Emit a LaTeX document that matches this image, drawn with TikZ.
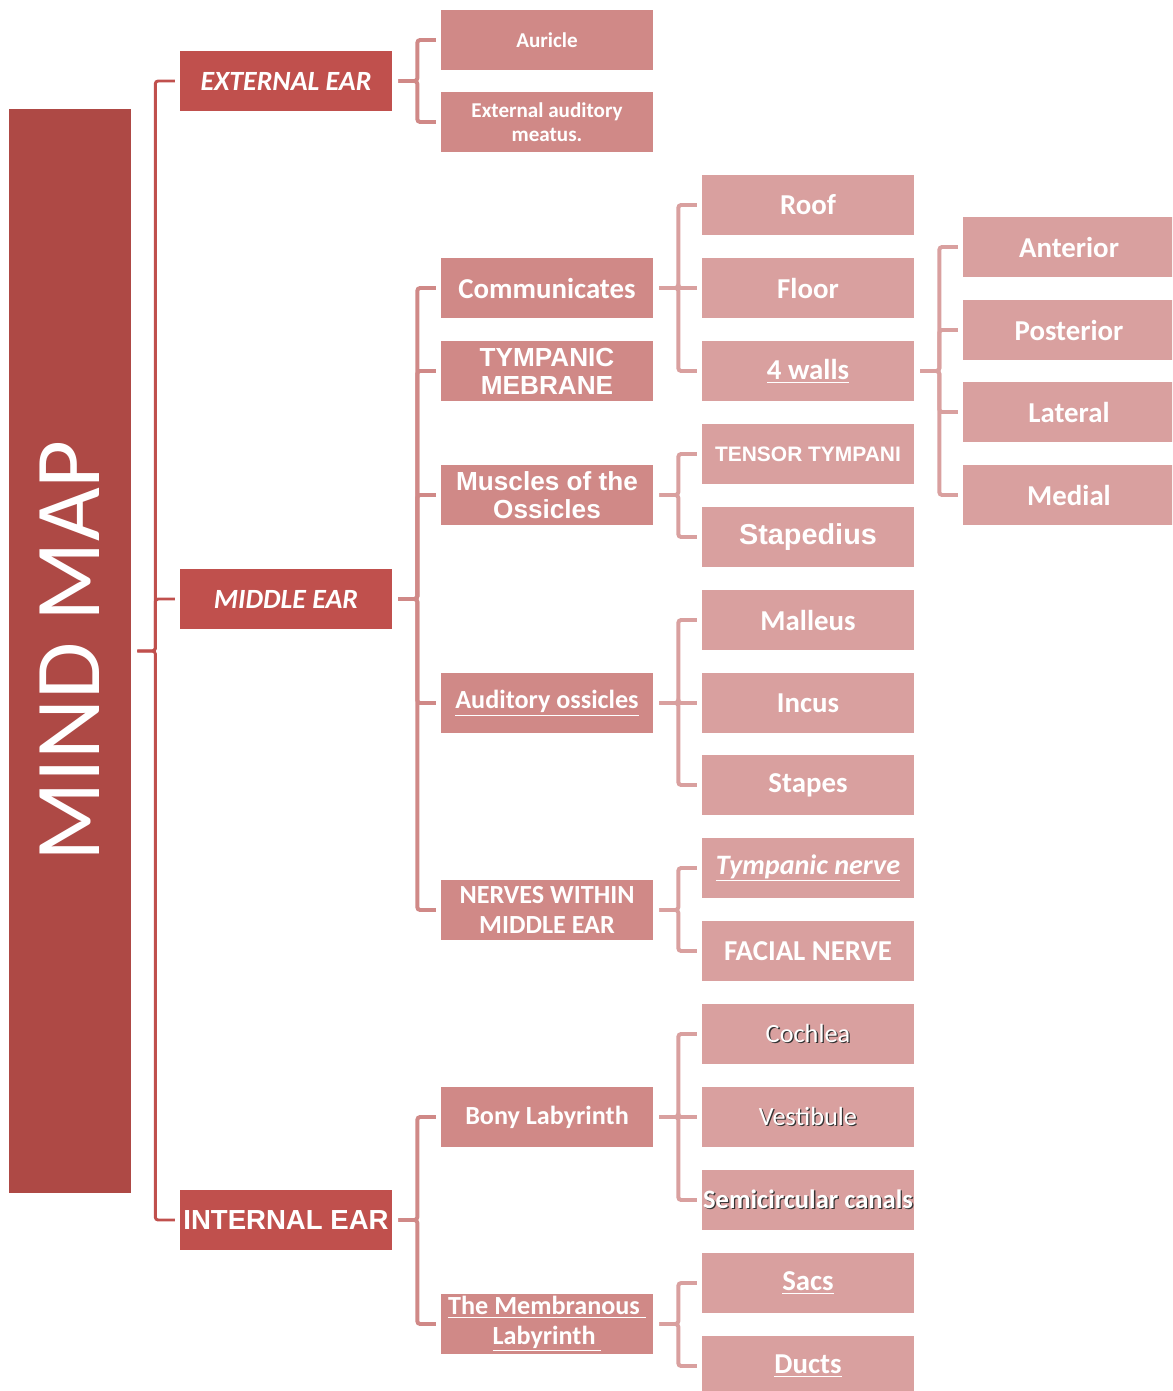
\documentclass[tikz,border=0pt]{standalone}
\usepackage{fontspec}
\setmainfont{Carlito}
\newfontfamily\arialfont{Liberation Sans}

\definecolor{mindred}{RGB}{174,73,69}
\definecolor{topicred}{RGB}{192,80,77}
\definecolor{subpink}{RGB}{208,137,135}
\definecolor{leafpink}{RGB}{217,160,159}

\newcommand{\shadowtext}[1]{\makebox[0pt][l]{\hspace{0.9pt}\raisebox{-0.9pt}{\color{black!80}#1}}#1}

\begin{document}
\begin{tikzpicture}[x=0.025cm,y=-0.025cm,
    box/.style ={rectangle, text=white, inner sep=0pt, align=center,
                 minimum width=5.3cm, minimum height=1.5cm},
    mindbox/.style ={rectangle, fill=mindred, text=white, inner sep=0pt,
                 minimum width=3.05cm, minimum height=27.1cm},
    topic/.style ={box, fill=topicred},
    sub/.style ={box, fill=subpink},
    leaf/.style ={box, fill=leafpink},
    big/.style ={font=\bfseries\fontsize{20.5}{22}\selectfont},
    mediumtxt/.style ={font=\bfseries\fontsize{18.6}{21}\selectfont},
    ariatxt/.style ={font=\arialfont\bfseries\fontsize{18.6}{20}\selectfont},
    link/.style ={line width=2.8pt, rounded corners=2pt,
                  shorten <=4.25pt, shorten >=3.5pt}]
   \clip (0,0) rectangle (1172,1391);

   \node[mindbox] (mind) at (70,651) {\rotatebox{90}{\fontsize{66}{66}\selectfont MIND MAP}};

   \node[topic,font=\bfseries\itshape\fontsize{19.8}{22}\selectfont] (ext) at (286,81) {EXTERNAL EAR};
   \node[topic,font=\bfseries\itshape\fontsize{19.8}{22}\selectfont] (mid) at (286,599) {MIDDLE EAR};
   \node[topic,font=\arialfont\bfseries\fontsize{19.6}{22}\selectfont] (int) at (286,1220) {INTERNAL EAR};

   \node[sub,font=\bfseries\fontsize{15}{17}\selectfont] (auricle) at (547,40) {Auricle};
   \node[sub,font=\bfseries\fontsize{15}{17}\selectfont] (meatus) at (547,122) {External auditory\\meatus.};
   \node[sub,big] (comm) at (547,288) {Communicates};
   \node[sub,ariatxt] (tymp) at (547,371) {TYMPANIC\\MEBRANE};
   \node[sub,ariatxt] (musc) at (547,495) {Muscles of the\\Ossicles};
   \node[sub,mediumtxt] (ossic) at (547,703) {\underline{Auditory ossicles}};
   \node[sub,mediumtxt] (nerves) at (547,910) {NERVES WITHIN\\MIDDLE EAR};
   \node[sub,mediumtxt] (bony) at (547,1117) {Bony Labyrinth};
   \node[sub,mediumtxt] (memb) at (547,1324) {\underline{The Membranous\ }\\\underline{Labyrinth\ }};

   \node[leaf,big] (roof) at (808,205) {Roof};
   \node[leaf,big] (floor) at (808,288) {Floor};
   \node[leaf,big] (walls) at (808,371) {\underline{4 walls}};
   \node[leaf,font=\arialfont\bfseries\fontsize{14.9}{17}\selectfont] (tensor) at (808,454) {TENSOR TYMPANI};
   \node[leaf,font=\arialfont\bfseries\fontsize{20.5}{22}\selectfont] (staped) at (808,537) {Stapedius};
   \node[leaf,big] (malleus) at (808,620) {Malleus};
   \node[leaf,big] (incus) at (808,703) {Incus};
   \node[leaf,big] (stapes) at (808,785) {Stapes};
   \node[leaf,font=\bfseries\itshape\fontsize{20}{22}\selectfont] (tymnerve) at (808,868) {\underline{Tympanic nerve}};
   \node[leaf,big] (facial) at (808,951) {FACIAL NERVE};
   \node[leaf,font=\fontsize{18.7}{21}\selectfont] (cochlea) at (808,1034) {\shadowtext{Cochlea}};
   \node[leaf,font=\fontsize{18.7}{21}\selectfont] (vestib) at (808,1117) {\shadowtext{Vestibule}};
   \node[leaf,font=\bfseries\fontsize{18.9}{21}\selectfont] (semicirc) at (808,1200) {\shadowtext{Semicircular canals}};
   \node[leaf,big] (sacs) at (808,1283) {\underline{Sacs}};
   \node[leaf,big] (ducts) at (808,1366) {\underline{Ducts}};

   \node[leaf,big] (ant) at (1069,247) {Anterior};
   \node[leaf,big] (post) at (1069,330) {Posterior};
   \node[leaf,big] (lat) at (1069,412) {Lateral};
   \node[leaf,big] (med) at (1069,495) {Medial};

   % main branch
   \draw[link,topicred,line width=2.1pt] (mind.east) -- ++(24,0) |- (ext.west);
   \draw[link,topicred,line width=2.1pt] (mind.east) -- ++(24,0) |- (mid.west);
   \draw[link,topicred,line width=2.1pt] (mind.east) -- ++(24,0) |- (int.west);

   % external ear
   \draw[link,subpink] (ext.east) -- ++(25,0) |- (auricle.west);
   \draw[link,subpink] (ext.east) -- ++(25,0) |- (meatus.west);

   % middle ear
   \draw[link,subpink] (mid.east) -- ++(25,0) |- (comm.west);
   \draw[link,subpink] (mid.east) -- ++(25,0) |- (tymp.west);
   \draw[link,subpink] (mid.east) -- ++(25,0) |- (musc.west);
   \draw[link,subpink] (mid.east) -- ++(25,0) |- (ossic.west);
   \draw[link,subpink] (mid.east) -- ++(25,0) |- (nerves.west);

   \draw[link,leafpink] (comm.east) -- ++(25,0) |- (roof.west);
   \draw[link,leafpink] (comm.east) -- ++(25,0) |- (floor.west);
   \draw[link,leafpink] (comm.east) -- ++(25,0) |- (walls.west);

   \draw[link,leafpink] (walls.east) -- ++(25,0) |- (ant.west);
   \draw[link,leafpink] (walls.east) -- ++(25,0) |- (post.west);
   \draw[link,leafpink] (walls.east) -- ++(25,0) |- (lat.west);
   \draw[link,leafpink] (walls.east) -- ++(25,0) |- (med.west);

   \draw[link,leafpink] (musc.east) -- ++(25,0) |- (tensor.west);
   \draw[link,leafpink] (musc.east) -- ++(25,0) |- (staped.west);

   \draw[link,leafpink] (ossic.east) -- ++(25,0) |- (malleus.west);
   \draw[link,leafpink] (ossic.east) -- ++(25,0) |- (incus.west);
   \draw[link,leafpink] (ossic.east) -- ++(25,0) |- (stapes.west);

   \draw[link,leafpink] (nerves.east) -- ++(25,0) |- (tymnerve.west);
   \draw[link,leafpink] (nerves.east) -- ++(25,0) |- (facial.west);

   % internal ear
   \draw[link,subpink] (int.east) -- ++(25,0) |- (bony.west);
   \draw[link,subpink] (int.east) -- ++(25,0) |- (memb.west);

   \draw[link,leafpink] (bony.east) -- ++(25,0) |- (cochlea.west);
   \draw[link,leafpink] (bony.east) -- ++(25,0) |- (vestib.west);
   \draw[link,leafpink] (bony.east) -- ++(25,0) |- (semicirc.west);

   \draw[link,leafpink] (memb.east) -- ++(25,0) |- (sacs.west);
   \draw[link,leafpink] (memb.east) -- ++(25,0) |- (ducts.west);
 \end{tikzpicture}
\end{document}
